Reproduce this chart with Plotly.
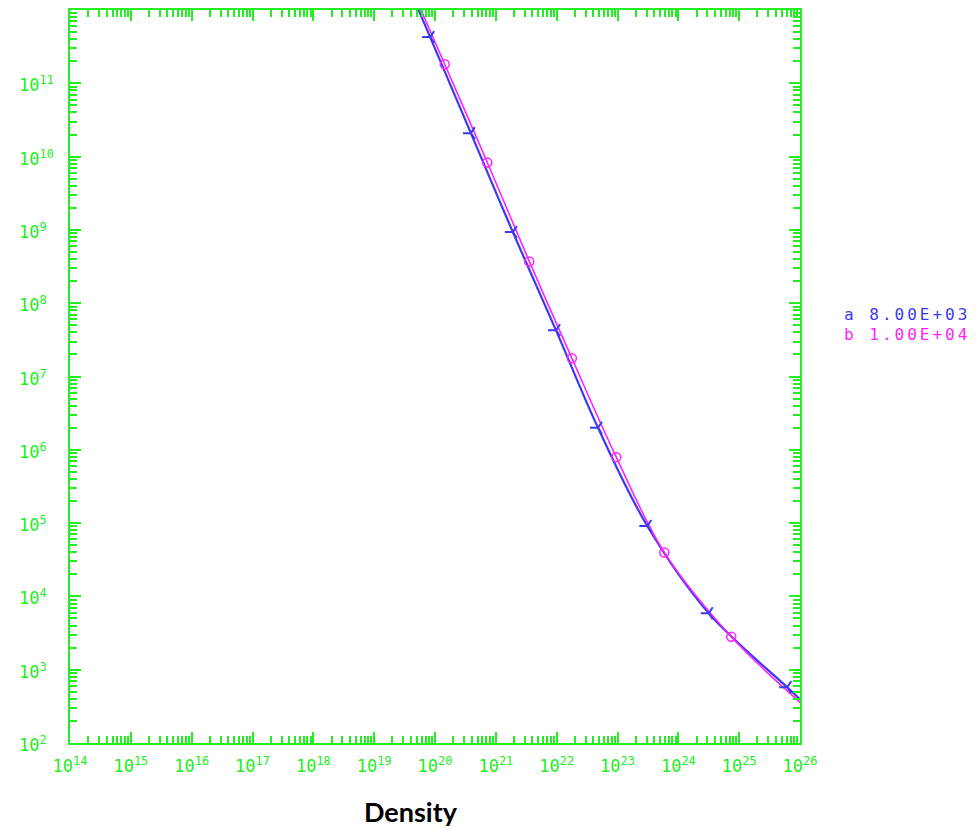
import plotly.graph_objects as go

GREEN = "#22ee22"
BLUE = "#3a3af2"
MAGENTA = "#ff22ff"

# log10(density), log10(value)
a_line_x = [19.72, 19.92, 20.59, 21.28, 21.99, 22.68, 23.49, 24.50, 25.79, 26.02]
a_line_y = [12.02, 11.63, 10.32, 8.97, 7.63, 6.30, 4.96, 3.77, 2.76, 2.58]
a_mark_x = [19.92, 20.59, 21.28, 21.99, 22.68, 23.49, 24.50, 25.79]
a_mark_y = [11.63, 10.32, 8.97, 7.63, 6.30, 4.96, 3.77, 2.76]

b_line_x = [19.76, 20.16, 20.86, 21.55, 22.25, 22.98, 23.77, 24.87, 26.02]
b_line_y = [12.02, 11.26, 9.92, 8.57, 7.25, 5.90, 4.60, 3.45, 2.54]
b_mark_x = [20.16, 20.86, 21.55, 22.25, 22.98, 23.77, 24.87]
b_mark_y = [11.26, 9.92, 8.57, 7.25, 5.90, 4.60, 3.45]

x_tick_exp = list(range(14, 27))
y_tick_exp = list(range(2, 12))
legend_labels = ["a 8.00E+03", "b 1.00E+04"]
x_title = "Density"

X_RANGE = [14, 26]
Y_RANGE = [2, 12.0]

def p10(v):
    return [10.0 ** t for t in v]

def minors(lo, hi):
    return [m * 10.0 ** e for e in range(lo, hi) for m in range(2, 10)]

fig = go.Figure()
fig.add_trace(go.Scatter(x=p10(a_line_x), y=p10(a_line_y), mode="lines",
                         line=dict(color=BLUE, width=2.2, shape="spline"), showlegend=False))
fig.add_trace(go.Scatter(x=p10(b_line_x), y=p10(b_line_y), mode="lines",
                         line=dict(color=MAGENTA, width=1.6, shape="spline"), showlegend=False))
fig.add_trace(go.Scatter(x=p10(a_mark_x), y=p10(a_mark_y), mode="markers",
                         marker=dict(symbol="y-left-open", size=10, color=BLUE,
                                     line=dict(color=BLUE, width=2)),
                         showlegend=False))
fig.add_trace(go.Scatter(x=p10(b_mark_x), y=p10(b_mark_y), mode="markers",
                         marker=dict(symbol="circle-open", size=9, color=MAGENTA,
                                     line=dict(color=MAGENTA, width=1.5)),
                         showlegend=False))
# empty trace to carry the minor-tick overlay axes
fig.add_trace(go.Scatter(x=[], y=[], xaxis="x2", yaxis="y2", showlegend=False, hoverinfo="skip"))

tickfont = dict(family="DejaVu Sans Mono", size=17, color=GREEN)
common = dict(type="log", showgrid=False, zeroline=False, showline=True, linecolor=GREEN, linewidth=2,
              mirror="allticks", ticks="inside", ticklen=11, tickwidth=2, tickcolor=GREEN)

fig.update_layout(
    xaxis=dict(range=X_RANGE, tickvals=p10(x_tick_exp),
               ticktext=[f"10<sup>{e}</sup>" for e in x_tick_exp],
               tickfont=tickfont, ticklabelstandoff=7, **common),
    yaxis=dict(range=Y_RANGE, tickvals=p10(y_tick_exp), showticklabels=False, **common),
    xaxis2=dict(overlaying="x", range=X_RANGE, type="log", tickvals=minors(14, 26), showticklabels=False,
                showgrid=False, zeroline=False, showline=False, mirror="allticks",
                ticks="inside", ticklen=7, tickwidth=1.5, tickcolor=GREEN),
    yaxis2=dict(overlaying="y", range=Y_RANGE, type="log", tickvals=minors(2, 12), showticklabels=False,
                showgrid=False, zeroline=False, showline=False, mirror="allticks",
                ticks="inside", ticklen=7, tickwidth=1.5, tickcolor=GREEN),
)

for e in y_tick_exp:
    fig.add_annotation(text=f"10<sup>{e}</sup>", xref="paper", yref="y", x=-0.0726, y=e,
                       xanchor="left", yanchor="middle", showarrow=False, yshift=-1,
                       font=tickfont)

legend_colors = [BLUE, MAGENTA]
legend_y = [0.585, 0.557]
for lab, col, ly in zip(legend_labels, legend_colors, legend_y):
    fig.add_annotation(text=f"<span style='letter-spacing:3px'>{lab}</span>",
                       xref="paper", yref="paper", x=1.0575, y=ly,
                       xanchor="left", yanchor="middle", showarrow=False,
                       font=dict(family="DejaVu Sans Mono", size=16, color=col))

fig.add_annotation(text=f"<b>{x_title}</b>", xref="paper", yref="paper", x=0.467, y=-0.094,
                   xanchor="center", yanchor="middle", showarrow=False,
                   font=dict(family="Lato", size=27, color="black"))

fig.update_layout(width=980, height=828, margin=dict(l=62, r=188, t=0, b=93),
                  paper_bgcolor="white", plot_bgcolor="white")
fig.write_html("out.html")
